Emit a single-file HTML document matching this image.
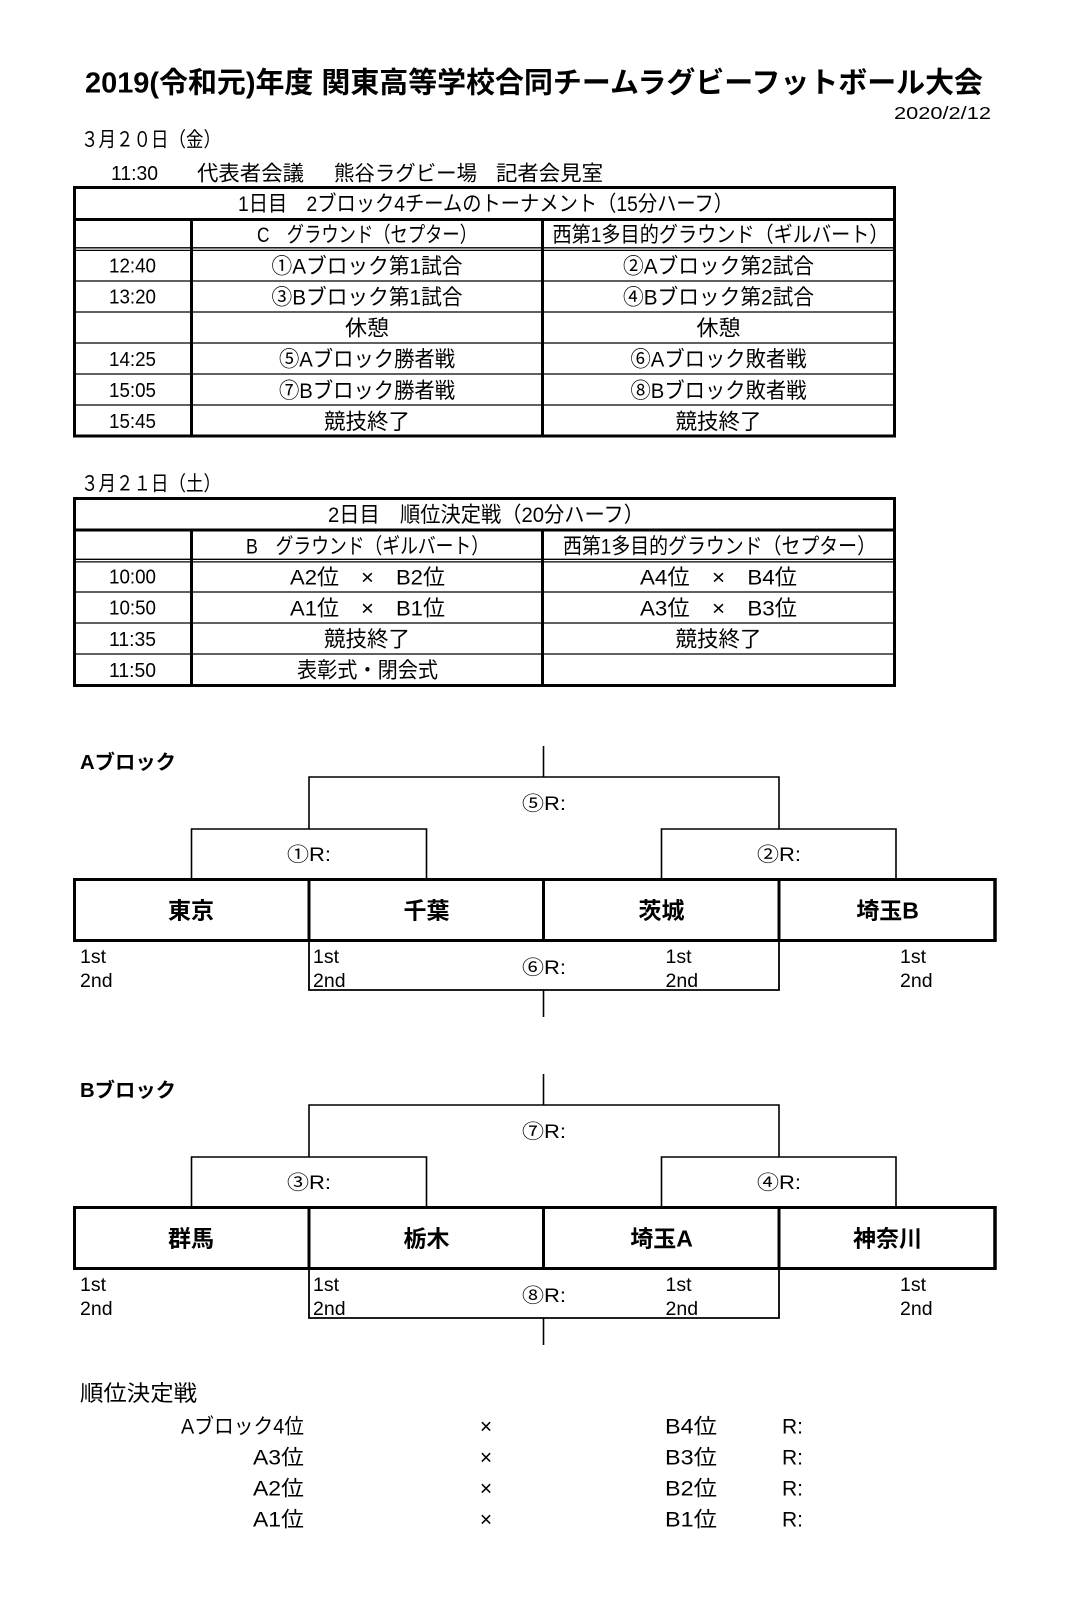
<!DOCTYPE html>
<html><head><meta charset="utf-8"><style>
html,body{margin:0;padding:0;background:#fff;}
svg{display:block;}
text{font-family:"Liberation Sans","Noto Sans CJK JP",sans-serif;fill:#000;}
.b{font-weight:bold;}
</style></head><body>
<svg width="1071" height="1624" viewBox="0 0 1071 1624" xmlns="http://www.w3.org/2000/svg">
<rect x="0" y="0" width="1071" height="1624" fill="#fff"/>

<!-- Header -->
<text class="b" x="85" y="92.5" font-size="29" textLength="898" lengthAdjust="spacingAndGlyphs">2019(令和元)年度 関東高等学校合同チームラグビーフットボール大会</text>
<text x="894" y="119" font-size="17.5" textLength="97" lengthAdjust="spacingAndGlyphs">2020/2/12</text>
<text x="81" y="146.5" font-size="20.5" textLength="140" lengthAdjust="spacingAndGlyphs">３月２０日（金）</text>
<text x="111" y="180" font-size="20" textLength="47" lengthAdjust="spacingAndGlyphs">11:30</text>
<text x="197" y="180.5" font-size="21" textLength="107" lengthAdjust="spacingAndGlyphs">代表者会議</text>
<text x="334" y="180.5" font-size="21" textLength="143" lengthAdjust="spacingAndGlyphs">熊谷ラグビー場</text>
<text x="496" y="180.5" font-size="21" textLength="107" lengthAdjust="spacingAndGlyphs">記者会見室</text>

<!-- Table 1 lines -->
<g stroke="#000" fill="none">
  <line x1="73" y1="187.5" x2="896" y2="187.5" stroke-width="3"/>
  <line x1="73" y1="219.5" x2="896" y2="219.5" stroke-width="3"/>
  <line x1="73" y1="247.8" x2="896" y2="247.8" stroke-width="1.3"/>
  <line x1="73" y1="250.4" x2="896" y2="250.4" stroke-width="1.3"/>
  <line x1="73" y1="281" x2="896" y2="281" stroke-width="1.2"/>
  <line x1="73" y1="312" x2="896" y2="312" stroke-width="1.2"/>
  <line x1="73" y1="343" x2="896" y2="343" stroke-width="1.2"/>
  <line x1="73" y1="374" x2="896" y2="374" stroke-width="1.2"/>
  <line x1="73" y1="405" x2="896" y2="405" stroke-width="1.2"/>
  <line x1="73" y1="436" x2="896" y2="436" stroke-width="3"/>
  <line x1="74.5" y1="186" x2="74.5" y2="437.5" stroke-width="3"/>
  <line x1="894.5" y1="186" x2="894.5" y2="437.5" stroke-width="3"/>
  <line x1="191.5" y1="219.5" x2="191.5" y2="436" stroke-width="3"/>
  <line x1="542.5" y1="219.5" x2="542.5" y2="436" stroke-width="3"/>
</g>

<!-- Table 1 text -->
<g font-size="21.5">
<text x="238" y="211" textLength="495" lengthAdjust="spacingAndGlyphs">1日目　2ブロック4チームのトーナメント（15分ハーフ）</text>
<text x="257" y="242" textLength="220" lengthAdjust="spacingAndGlyphs">C　グラウンド（セプター）</text>
<text x="552.5" y="242" textLength="336" lengthAdjust="spacingAndGlyphs">西第1多目的グラウンド（ギルバート）</text>

<text x="109" y="272.6" font-size="20" textLength="47" lengthAdjust="spacingAndGlyphs">12:40</text>
<text x="109" y="303.7" font-size="20" textLength="47" lengthAdjust="spacingAndGlyphs">13:20</text>
<text x="109" y="365.9" font-size="20" textLength="47" lengthAdjust="spacingAndGlyphs">14:25</text>
<text x="109" y="397" font-size="20" textLength="47" lengthAdjust="spacingAndGlyphs">15:05</text>
<text x="109" y="428.1" font-size="20" textLength="47" lengthAdjust="spacingAndGlyphs">15:45</text>

<text x="271.5" y="273.4" textLength="191" lengthAdjust="spacingAndGlyphs">①Aブロック第1試合</text>
<text x="623" y="273.4" textLength="191" lengthAdjust="spacingAndGlyphs">②Aブロック第2試合</text>
<text x="271.5" y="304.5" textLength="191" lengthAdjust="spacingAndGlyphs">③Bブロック第1試合</text>
<text x="623" y="304.5" textLength="191" lengthAdjust="spacingAndGlyphs">④Bブロック第2試合</text>
<text x="345" y="335.6" textLength="44" lengthAdjust="spacingAndGlyphs">休憩</text>
<text x="696.5" y="335.6" textLength="44" lengthAdjust="spacingAndGlyphs">休憩</text>
<text x="279" y="366.7" textLength="176" lengthAdjust="spacingAndGlyphs">⑤Aブロック勝者戦</text>
<text x="630.5" y="366.7" textLength="176" lengthAdjust="spacingAndGlyphs">⑥Aブロック敗者戦</text>
<text x="279" y="397.8" textLength="176" lengthAdjust="spacingAndGlyphs">⑦Bブロック勝者戦</text>
<text x="630.5" y="397.8" textLength="176" lengthAdjust="spacingAndGlyphs">⑧Bブロック敗者戦</text>
<text x="324" y="428.9" textLength="86" lengthAdjust="spacingAndGlyphs">競技終了</text>
<text x="675.5" y="428.9" textLength="86" lengthAdjust="spacingAndGlyphs">競技終了</text>
</g>

<!-- Day 2 -->
<text x="81" y="490.6" font-size="20.5" textLength="140" lengthAdjust="spacingAndGlyphs">３月２１日（土）</text>

<g stroke="#000" fill="none">
  <line x1="73" y1="498.5" x2="896" y2="498.5" stroke-width="3"/>
  <line x1="73" y1="530" x2="896" y2="530" stroke-width="3"/>
  <line x1="73" y1="559.3" x2="896" y2="559.3" stroke-width="1.3"/>
  <line x1="73" y1="561.9" x2="896" y2="561.9" stroke-width="1.3"/>
  <line x1="73" y1="592" x2="896" y2="592" stroke-width="1.2"/>
  <line x1="73" y1="623" x2="896" y2="623" stroke-width="1.2"/>
  <line x1="73" y1="654" x2="896" y2="654" stroke-width="1.2"/>
  <line x1="73" y1="685.5" x2="896" y2="685.5" stroke-width="3"/>
  <line x1="74.5" y1="497" x2="74.5" y2="687" stroke-width="3"/>
  <line x1="894.5" y1="497" x2="894.5" y2="687" stroke-width="3"/>
  <line x1="191.5" y1="530" x2="191.5" y2="685.5" stroke-width="3"/>
  <line x1="542.5" y1="530" x2="542.5" y2="685.5" stroke-width="3"/>
</g>

<g font-size="21.5">
<text x="328" y="522.2" textLength="316" lengthAdjust="spacingAndGlyphs">2日目　順位決定戦（20分ハーフ）</text>
<text x="246" y="553.3" textLength="243" lengthAdjust="spacingAndGlyphs">B　グラウンド（ギルバート）</text>
<text x="563" y="553.3" textLength="313" lengthAdjust="spacingAndGlyphs">西第1多目的グラウンド（セプター）</text>

<text x="109" y="583.6" font-size="20" textLength="47" lengthAdjust="spacingAndGlyphs">10:00</text>
<text x="109" y="614.7" font-size="20" textLength="47" lengthAdjust="spacingAndGlyphs">10:50</text>
<text x="109" y="645.8" font-size="20" textLength="47" lengthAdjust="spacingAndGlyphs">11:35</text>
<text x="109" y="676.9" font-size="20" textLength="47" lengthAdjust="spacingAndGlyphs">11:50</text>

<text x="290" y="584.4" textLength="155" lengthAdjust="spacingAndGlyphs">A2位　×　B2位</text>
<text x="640" y="584.4" textLength="157" lengthAdjust="spacingAndGlyphs">A4位　×　B4位</text>
<text x="290" y="615.5" textLength="155" lengthAdjust="spacingAndGlyphs">A1位　×　B1位</text>
<text x="640" y="615.5" textLength="157" lengthAdjust="spacingAndGlyphs">A3位　×　B3位</text>
<text x="324" y="646.6" textLength="86" lengthAdjust="spacingAndGlyphs">競技終了</text>
<text x="675.5" y="646.6" textLength="86" lengthAdjust="spacingAndGlyphs">競技終了</text>
<text x="297" y="677.7" textLength="141" lengthAdjust="spacingAndGlyphs">表彰式・閉会式</text>
</g>

<!-- Bracket A -->
<g>
<text class="b" x="80" y="769" font-size="20" textLength="96" lengthAdjust="spacingAndGlyphs">Aブロック</text>
<g stroke="#000" fill="none" stroke-width="1.6">
  <path d="M543.5 746 V777"/>
  <path d="M309 829 V777 H779 V829"/>
  <path d="M191.5 879 V829 H426.5 V879"/>
  <path d="M661.5 879 V829 H896 V879"/>
  <path d="M309 941 V990 H779 V941" stroke-width="1.8"/>
  <path d="M543.5 990 V1017"/>
</g>
<g stroke="#000" fill="none" stroke-width="3">
  <rect x="74.5" y="879.5" width="920.5" height="61"/>
  <line x1="995" y1="878" x2="995" y2="942" stroke-width="3.5"/>
  <line x1="309" y1="879.5" x2="309" y2="940.5"/>
  <line x1="543.5" y1="879.5" x2="543.5" y2="940.5"/>
  <line x1="779" y1="879.5" x2="779" y2="940.5"/>
</g>
<g font-size="19.5">
<text x="522" y="810" textLength="44" lengthAdjust="spacingAndGlyphs">⑤R:</text>
<text x="287" y="861" textLength="44" lengthAdjust="spacingAndGlyphs">①R:</text>
<text x="757" y="861" textLength="44" lengthAdjust="spacingAndGlyphs">②R:</text>
<text x="522" y="974" textLength="44" lengthAdjust="spacingAndGlyphs">⑥R:</text>
</g>
<g font-size="23" text-anchor="middle">
<text class="b" x="191" y="918.5">東京</text>
<text class="b" x="426.5" y="918.5">千葉</text>
<text class="b" x="661.5" y="918.5">茨城</text>
<text class="b" x="887.5" y="918.5">埼玉B</text>
</g>
<g font-size="19.5">
<text x="80" y="963">1st</text><text x="80" y="987">2nd</text>
<text x="313" y="963">1st</text><text x="313" y="987">2nd</text>
<text x="665.5" y="963">1st</text><text x="665.5" y="987">2nd</text>
<text x="900" y="963">1st</text><text x="900" y="987">2nd</text>
</g>
</g>

<!-- Bracket B -->
<g transform="translate(0,328)">
<text class="b" x="80" y="769" font-size="20" textLength="96" lengthAdjust="spacingAndGlyphs">Bブロック</text>
<g stroke="#000" fill="none" stroke-width="1.6">
  <path d="M543.5 746 V777"/>
  <path d="M309 829 V777 H779 V829"/>
  <path d="M191.5 879 V829 H426.5 V879"/>
  <path d="M661.5 879 V829 H896 V879"/>
  <path d="M309 941 V990 H779 V941" stroke-width="1.8"/>
  <path d="M543.5 990 V1017"/>
</g>
<g stroke="#000" fill="none" stroke-width="3">
  <rect x="74.5" y="879.5" width="920.5" height="61"/>
  <line x1="995" y1="878" x2="995" y2="942" stroke-width="3.5"/>
  <line x1="309" y1="879.5" x2="309" y2="940.5"/>
  <line x1="543.5" y1="879.5" x2="543.5" y2="940.5"/>
  <line x1="779" y1="879.5" x2="779" y2="940.5"/>
</g>
<g font-size="19.5">
<text x="522" y="810" textLength="44" lengthAdjust="spacingAndGlyphs">⑦R:</text>
<text x="287" y="861" textLength="44" lengthAdjust="spacingAndGlyphs">③R:</text>
<text x="757" y="861" textLength="44" lengthAdjust="spacingAndGlyphs">④R:</text>
<text x="522" y="974" textLength="44" lengthAdjust="spacingAndGlyphs">⑧R:</text>
</g>
<g font-size="23" text-anchor="middle">
<text class="b" x="191" y="918.5">群馬</text>
<text class="b" x="426.5" y="918.5">栃木</text>
<text class="b" x="661.5" y="918.5">埼玉A</text>
<text class="b" x="887.5" y="918.5">神奈川</text>
</g>
<g font-size="19.5">
<text x="80" y="963">1st</text><text x="80" y="987">2nd</text>
<text x="313" y="963">1st</text><text x="313" y="987">2nd</text>
<text x="665.5" y="963">1st</text><text x="665.5" y="987">2nd</text>
<text x="900" y="963">1st</text><text x="900" y="987">2nd</text>
</g>
</g>

<!-- Ranking matches -->
<text x="80" y="1401" font-size="22" textLength="117" lengthAdjust="spacingAndGlyphs">順位決定戦</text>
<g font-size="21">
<text x="181" y="1433.5" textLength="123" lengthAdjust="spacingAndGlyphs">Aブロック4位</text>
<text x="253" y="1464.5" textLength="51" lengthAdjust="spacingAndGlyphs">A3位</text>
<text x="253" y="1495.5" textLength="51" lengthAdjust="spacingAndGlyphs">A2位</text>
<text x="253" y="1526.5" textLength="51" lengthAdjust="spacingAndGlyphs">A1位</text>
<text x="486" y="1433.5" text-anchor="middle">×</text>
<text x="486" y="1464.5" text-anchor="middle">×</text>
<text x="486" y="1495.5" text-anchor="middle">×</text>
<text x="486" y="1526.5" text-anchor="middle">×</text>
<text x="665" y="1433.5" textLength="52" lengthAdjust="spacingAndGlyphs">B4位</text>
<text x="665" y="1464.5" textLength="52" lengthAdjust="spacingAndGlyphs">B3位</text>
<text x="665" y="1495.5" textLength="52" lengthAdjust="spacingAndGlyphs">B2位</text>
<text x="665" y="1526.5" textLength="52" lengthAdjust="spacingAndGlyphs">B1位</text>
<text x="782" y="1433.5">R:</text>
<text x="782" y="1464.5">R:</text>
<text x="782" y="1495.5">R:</text>
<text x="782" y="1526.5">R:</text>
</g>
</svg>
</body></html>
